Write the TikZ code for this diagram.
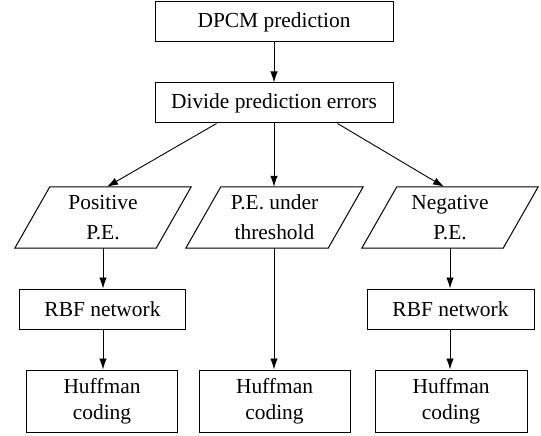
\documentclass[tikz,border=0pt]{standalone}
\usepackage{fontspec}
\setmainfont{Liberation Serif}
\usetikzlibrary{arrows.meta,calc}
\begin{document}
\begin{tikzpicture}[x=1bp,y=-1bp,
  base/.style={inner sep=0pt, align=center, font=\fontsize{21.5}{26}\selectfont},
  box/.style={base, draw, line width=1bp},
  paratext/.style={base, font=\fontsize{21.5}{30}\selectfont},
  edge/.style={line width=1bp},
  arr/.style={line width=0.9bp, -{Latex[length=11bp,width=7.5bp]}}]
\useasboundingbox (0,0) rectangle (541,436);

\node[box, minimum width=238bp, minimum height=40bp] (dpcm) at (274,22) {DPCM prediction};
\node[box, minimum width=238bp, minimum height=40bp] (divide) at (274,103) {Divide prediction errors};

\node[paratext, minimum width=176bp, minimum height=61bp] (lp) at (103,217.5) {Positive\\P.E.};
\node[paratext, minimum width=177bp, minimum height=61bp] (mp) at (274.5,217.5) {P.E. under\\threshold};
\node[paratext, minimum width=176bp, minimum height=61bp] (rp) at (450,217.5) {Negative\\P.E.};
\foreach \n in {lp,mp,rp}{
  \draw[edge] (\n.south west) -- ($(\n.south east)+(-35,0)$) -- (\n.north east) -- ($(\n.north west)+(35,0)$) -- cycle;
}

\node[box, minimum width=165bp, minimum height=40bp] (lrbf) at (102.5,309) {RBF network};
\node[box, minimum width=167bp, minimum height=40bp] (rrbf) at (450.5,309) {RBF network};

\node[box, minimum width=150bp, minimum height=62bp] (lh) at (102,401) {Huffman\\coding};
\node[box, minimum width=151bp, minimum height=62bp] (mh) at (274.5,401) {Huffman\\coding};
\node[box, minimum width=152bp, minimum height=62bp] (rh) at (451,401) {Huffman\\coding};

\draw[arr] (dpcm.south) -- (divide.north);
\draw[arr] ($(divide.south west)+(62,0)$) -- ($(lp.north)+(4,0)$);
\draw[arr] (divide.south) -- (mp.north -| divide.south);
\draw[arr] ($(divide.south east)+(-56,0)$) -- ($(rp.north)+(-6,0)$);

\draw[arr] (lp.south) -- (lrbf.north -| lp.south);
\draw[arr] (rp.south) -- (rrbf.north -| rp.south);
\draw[arr] (mp.south -| divide.south) -- (mh.north -| divide.south);
\draw[arr] (lrbf.south -| lp.south) -- (lh.north -| lp.south);
\draw[arr] (rrbf.south -| rp.south) -- (rh.north -| rp.south);
\end{tikzpicture}
\end{document}
